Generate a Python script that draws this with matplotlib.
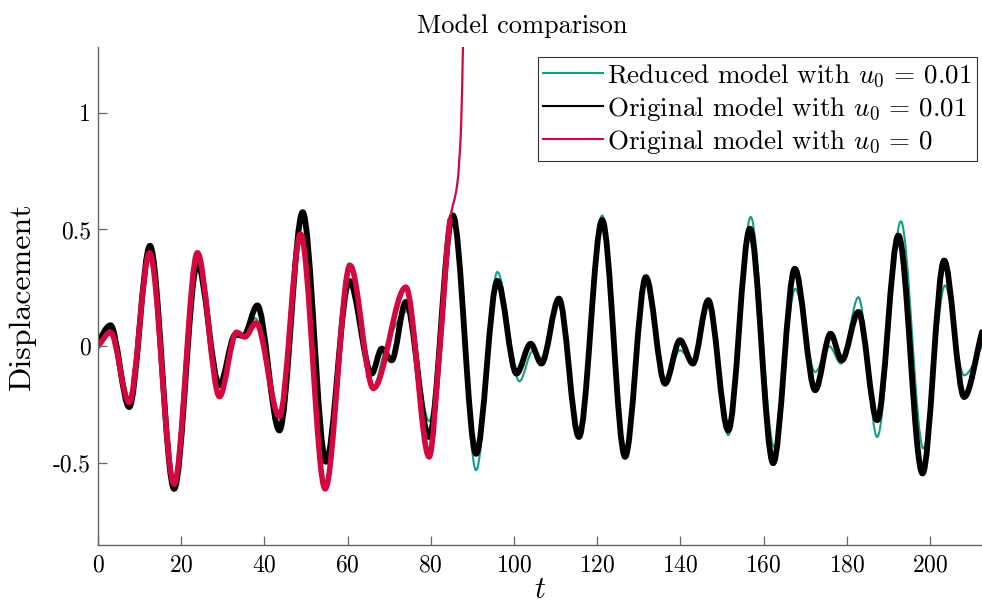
import numpy as np
import matplotlib
matplotlib.use("Agg")
import matplotlib.pyplot as plt
from matplotlib.path import Path
from matplotlib.patches import PathPatch
from matplotlib.lines import Line2D

plt.rcParams['font.family'] = 'serif'
plt.rcParams['font.serif'] = ['cmr10']
plt.rcParams['mathtext.fontset'] = 'cm'
plt.rcParams['axes.unicode_minus'] = False
plt.rcParams['axes.formatter.use_mathtext'] = True

# extrema / key points (t, displacement)
t_reduced = [0, 3.3, 7.7, 12.5, 18.3, 23.9, 29.2, 33.3, 35.3, 37.8, 43.6, 48.7, 54.6,
             60.3, 66.0, 69.4, 74.5, 79.6, 85.3, 90.9, 96.0, 101.3, 104.5, 106.5,
             110.8, 115.6, 121.2, 126.7, 131.7, 136.3, 139.9, 143.0, 146.7, 151.5,
             156.9, 162.5, 167.6, 172.4, 175.8, 178.6, 182.8, 187.3, 193.0, 198.4,
             203.6, 208.2, 212.5]
u_reduced = [0.0, 0.095, -0.25, 0.41, -0.60, 0.39, -0.21, 0.06, 0.04, 0.12, -0.30, 0.47,
             -0.60, 0.355, -0.18, 0.01, 0.15, -0.32, 0.524, -0.53, 0.318, -0.15, -0.02,
             -0.05, 0.20, -0.38, 0.56, -0.46, 0.28, -0.15, -0.017, -0.07, 0.205, -0.38,
             0.553, -0.43, 0.246, -0.11, 0.0, -0.074, 0.21, -0.388, 0.535, -0.437,
             0.26, -0.124, 0.0]

t_orig = [0, 3.0, 7.5, 12.5, 18.3, 23.9, 29.2, 33.0, 35.0, 38.3, 43.6, 49.2, 54.8,
          60.4, 65.8, 68.2, 70.6, 74.0, 79.6, 85.3, 90.9, 96.0, 100.6, 104.0, 106.6,
          110.8, 115.6, 121.2, 126.7, 131.7, 136.3, 139.9, 143.0, 146.7, 151.5,
          156.7, 162.3, 167.5, 172.4, 176.1, 178.8, 182.8, 187.3, 192.4, 198.2,
          203.4, 208.2, 212.5]
u_orig = [0.02, 0.09, -0.26, 0.43, -0.61, 0.355, -0.167, 0.05, 0.045, 0.175, -0.36,
          0.574, -0.494, 0.28, -0.117, -0.01, -0.06, 0.19, -0.388, 0.56, -0.46, 0.28,
          -0.117, 0.011, -0.074, 0.204, -0.388, 0.54, -0.473, 0.296, -0.16, 0.026,
          -0.074, 0.197, -0.36, 0.503, -0.50, 0.332, -0.188, 0.054, -0.06, 0.147,
          -0.316, 0.474, -0.544, 0.367, -0.217, 0.061]

t_zero = [0, 3.0, 7.5, 12.4, 18.3, 23.9, 29.2, 33.3, 35.3, 38.0, 43.6, 48.7, 54.6,
          60.6, 66.2, 74.0, 79.6, 82.2, 84.6, 86.4, 87.3, 87.8]
u_zero = [0.0, 0.06, -0.24, 0.40, -0.59, 0.40, -0.215, 0.06, 0.04, 0.10, -0.30, 0.48,
          -0.61, 0.346, -0.18, 0.253, -0.473, 0.0, 0.54, 0.70, 0.95, 1.35]

labels = [r'Reduced model with $u_0\,=\,0.01$',
          r'Original model with $u_0\,=\,0.01$',
          r'Original model with $u_0\,=\,0$']
colors = ['#149e86', '#000000', '#d2083e']


def smooth_path(t, y, i0=0, i1=None):
    # monotone cubic through the read points, drawn as bezier segments
    t = np.asarray(t, float)
    y = np.asarray(y, float)
    n = len(t)
    if i1 is None:
        i1 = n - 1
    h = np.diff(t)
    d = np.diff(y) / h
    m = np.zeros(n)
    m[0], m[-1] = d[0], d[-1]
    for k in range(1, n - 1):
        if d[k - 1] * d[k] > 0:
            w1 = 2 * h[k] + h[k - 1]
            w2 = h[k] + 2 * h[k - 1]
            m[k] = (w1 + w2) / (w1 / d[k - 1] + w2 / d[k])
    verts = [(t[i0], y[i0])]
    codes = [Path.MOVETO]
    for k in range(i0, i1):
        hk = h[k]
        verts += [(t[k] + hk / 3, y[k] + m[k] * hk / 3),
                  (t[k + 1] - hk / 3, y[k + 1] - m[k + 1] * hk / 3),
                  (t[k + 1], y[k + 1])]
        codes += [Path.CURVE4] * 3
    return Path(verts, codes)


fig = plt.figure(figsize=(9.82, 6.12), dpi=100)
ax = fig.add_axes([0.0998, 0.1095, 0.9002, 0.8135])

def add_curve(path, color, lw):
    ax.add_patch(PathPatch(path, fill=False, edgecolor=color, lw=lw,
                           capstyle='round', joinstyle='round'))

add_curve(smooth_path(t_reduced, u_reduced), colors[0], 1.5)
add_curve(smooth_path(t_orig, u_orig), colors[1], 4.2)
add_curve(smooth_path(t_zero, u_zero), colors[2], 1.6)
add_curve(smooth_path(t_zero, u_zero, 0, 18), colors[2], 4.0)

ax.set_xlim(0, 212.5)
ax.set_ylim(-0.85, 1.28)
ax.set_xticks(np.arange(0, 201, 20))
ax.set_yticks([-0.5, 0, 0.5, 1])
ax.set_yticklabels(['-0.5', '0', '0.5', '1'])
ax.tick_params(direction='in', length=6.5, width=0.9, labelsize=17, colors='#666666',
               labelcolor='black')
ax.tick_params(axis='x', pad=7)
ax.tick_params(axis='y', pad=5)
for s in ['top', 'right']:
    ax.spines[s].set_visible(False)
for s in ['left', 'bottom']:
    ax.spines[s].set_color('#666666')
    ax.spines[s].set_linewidth(1.0)

ax.set_title('Model comparison', fontsize=19, pad=10, x=0.48)
ax.set_xlabel(r'$t$', fontsize=22, labelpad=0)
ax.set_ylabel('Displacement', fontsize=23, labelpad=12)

handles = [Line2D([], [], color=c, lw=1.5) for c in colors]
leg = ax.legend(handles, labels, loc='upper right', bbox_to_anchor=(0.9943, 0.98),
                borderaxespad=0, fontsize=19.5, handlelength=2.2, handletextpad=0.15,
                borderpad=0.2, labelspacing=0.2, fancybox=False, framealpha=1,
                edgecolor='#333333')
leg.get_frame().set_linewidth(0.8)

fig.savefig('out.png', dpi=100)
